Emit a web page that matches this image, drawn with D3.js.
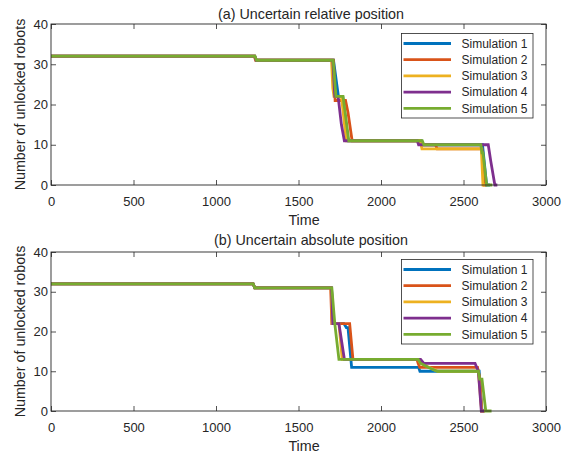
<!DOCTYPE html>
<html><head><meta charset="utf-8">
<script src="https://cdn.jsdelivr.net/npm/d3@7"></script>
<style>
html,body{margin:0;padding:0;background:#fff;}
svg{display:block;}
text{font-family:"Liberation Sans",Arial,Helvetica,sans-serif;fill:#262626;}
</style></head>
<body>
<svg id="chart" width="569" height="453"></svg>
<script>
// ---- data ----
const simNames = ["Simulation 1","Simulation 2","Simulation 3","Simulation 4","Simulation 5"];
const simColors = ["#0072BD","#D95319","#EDB120","#7E2F8E","#77AC30"];
const xTicks = [0,500,1000,1500,2000,2500,3000];
const yTicks = [0,10,20,30,40];
const titles = ["(a) Uncertain relative position","(b) Uncertain absolute position"];
const xLabel = "Time";
const yLabel = "Number of unlocked robots";

// (a) relative position : [time, unlocked robots]
const relSim1 = [[0,32],[1235,32],[1245,31],[1712,31],[1722,28],[1732,25],[1742,22],[1768,22],[1800,11],[2245,11],[2255,10],[2615,10],[2640,0],[2660,0]];
const relSim2 = [[0,32],[1232,32],[1240,31],[1712,31],[1722,21],[1785,21],[1800,18],[1825,11],[2235,11],[2245,10],[2330,10],[2340,9],[2612,9],[2625,0],[2640,0]];
const relSim3 = [[0,32],[1235,32],[1243,31],[1700,31],[1708,24],[1715,22],[1760,22],[1790,11],[2238,11],[2248,9],[2608,9],[2618,0],[2630,0]];
const relSim4 = [[0,32],[1235,32],[1243,31],[1708,31],[1720,22],[1740,22],[1760,15],[1778,11],[2220,11],[2228,10],[2650,10],[2665,6],[2690,0],[2705,0]];
const relSim5 = [[0,32],[1236,32],[1246,31],[1710,31],[1727,22],[1770,22],[1805,11],[2250,11],[2260,10],[2605,10],[2612,8],[2618,8],[2640,0],[2675,0]];

// (b) absolute position
const absSim1 = [[0,32],[1225,32],[1235,31],[1700,31],[1712,22],[1775,22],[1790,21],[1800,21],[1822,11],[2228,11],[2236,10],[2595,10],[2612,0],[2630,0]];
const absSim2 = [[0,32],[1225,32],[1235,31],[1695,31],[1702,22],[1810,22],[1830,13],[2218,13],[2225,12],[2235,11],[2585,11],[2600,8],[2610,0],[2625,0]];
const absSim3 = [[0,32],[1225,32],[1235,31],[1698,31],[1705,22],[1745,22],[1765,13],[2225,13],[2240,12],[2290,11],[2345,10],[2590,10],[2610,0],[2630,0]];
const absSim4 = [[0,32],[1225,32],[1235,31],[1700,31],[1708,22],[1745,22],[1778,13],[2240,13],[2260,12],[2570,12],[2590,10],[2608,0],[2625,0]];
const absSim5 = [[0,32],[1225,32],[1235,31],[1702,31],[1720,22],[1745,13],[2225,13],[2240,12],[2285,11],[2340,10],[2590,10],[2598,8],[2612,8],[2635,0],[2670,0]];

const panels = [
  {series:[relSim1,relSim2,relSim3,relSim4,relSim5], top:24, bottom:185, title:titles[0], titleY:19, legendTop:33.5},
  {series:[absSim1,absSim2,absSim3,absSim4,absSim5], top:252, bottom:411, title:titles[1], titleY:245, legendTop:259.5}
];

const svg = d3.select("#chart");
svg.append("rect").attr("width",569).attr("height",453).attr("fill","#fff");
const left = 51, right = 546;
const axisColor = "#262626";

panels.forEach(p => {
  const x = d3.scaleLinear().domain([0,3000]).range([left,right]);
  const y = d3.scaleLinear().domain([0,40]).range([p.bottom,p.top]);
  const g = svg.append("g");

  // lines
  const line = d3.line().x(d=>x(d[0])).y(d=>y(d[1]));
  p.series.forEach((s,i) => {
    g.append("path").datum(s).attr("d",line)
      .attr("fill","none").attr("stroke",simColors[i]).attr("stroke-width",2.8);
  });

  // axes
  const styleAxis = sel => {
    sel.select(".domain").remove();
    sel.selectAll(".tick line").attr("stroke",axisColor).attr("stroke-width",0.8);
    sel.selectAll(".tick text").attr("fill",axisColor).style("font-size","13px")
      .style("font-family",'"Liberation Sans",Arial,sans-serif');
  };
  g.append("g").attr("transform",`translate(0,${p.bottom})`)
    .call(d3.axisBottom(x).tickValues(xTicks).tickSize(-5).tickPadding(12).tickFormat(d3.format("d")))
    .call(styleAxis);
  g.append("g").attr("transform",`translate(0,${p.top})`)
    .call(d3.axisTop(x).tickValues(xTicks).tickSize(-5).tickFormat(""))
    .call(styleAxis);
  g.append("g").attr("transform",`translate(${left},0)`)
    .call(d3.axisLeft(y).tickValues(yTicks).tickSize(-5).tickPadding(3).tickFormat(d3.format("d")))
    .call(styleAxis);
  g.append("g").attr("transform",`translate(${right},0)`)
    .call(d3.axisRight(y).tickValues(yTicks).tickSize(-5).tickFormat(""))
    .call(styleAxis);

  // box
  g.append("rect").attr("x",left).attr("y",p.top).attr("width",right-left).attr("height",p.bottom-p.top)
    .attr("fill","none").attr("stroke",axisColor).attr("stroke-width",0.9);

  // title
  g.append("text").attr("x",311).attr("y",p.titleY).attr("text-anchor","middle")
    .style("font-size","14.3px").text(p.title);
  // x label
  g.append("text").attr("x",304).attr("y",p.bottom+40).attr("text-anchor","middle")
    .style("font-size","14.3px").text(xLabel);
  // y label
  g.append("text").attr("transform",`translate(25,${(p.top+p.bottom)/2}) rotate(-90)`)
    .attr("text-anchor","middle").style("font-size","14.3px").text(yLabel);

  // legend
  const lg = g.append("g");
  lg.append("rect").attr("x",401.5).attr("y",p.legendTop).attr("width",131.5).attr("height",84.5)
    .attr("fill","#fff").attr("stroke",axisColor).attr("stroke-width",0.8);
  simNames.forEach((n,i) => {
    const yy = p.legendTop + 10 + i*16.2;
    lg.append("line").attr("x1",403.5).attr("x2",451).attr("y1",yy).attr("y2",yy)
      .attr("stroke",simColors[i]).attr("stroke-width",2.8);
    lg.append("text").attr("x",461.5).attr("y",yy).attr("dy","0.35em")
      .style("font-size","12px").text(n);
  });
});
</script>
</body></html>
